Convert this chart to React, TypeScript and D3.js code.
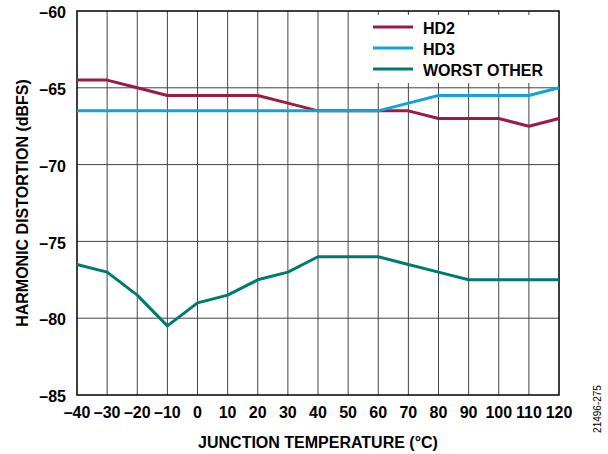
import React from "react";
import * as d3 from "d3";

const temps = [-40, -30, -20, -10, 0, 10, 20, 30, 40, 50, 60, 70, 80, 90, 100, 110, 120];
const hd2 = [-64.5, -64.5, -65, -65.5, -65.5, -65.5, -65.5, -66, -66.5, -66.5, -66.5, -66.5, -67, -67, -67, -67.5, -67];
const hd3 = [-66.5, -66.5, -66.5, -66.5, -66.5, -66.5, -66.5, -66.5, -66.5, -66.5, -66.5, -66, -65.5, -65.5, -65.5, -65.5, -65];
const worstOther = [-76.5, -77, -78.5, -80.5, -79, -78.5, -77.5, -77, -76, -76, -76, -76.5, -77, -77.5, -77.5, -77.5, -77.5];
const yTicks = [-60, -65, -70, -75, -80, -85];
const seriesNames = ["HD2", "HD3", "WORST OTHER"];
const seriesColors = ["#9b1b42", "#10a3d9", "#007a6e"];

const W = 608, H = 454;
const L = 77, R = 559, T = 11, B = 395;
const font = "Arial, 'Liberation Sans', Helvetica, sans-serif";

export default function App() {
  const x = d3.scaleLinear().domain([-40, 120]).range([L, R]);
  const y = d3.scaleLinear().domain([-85, -60]).range([B, T]);
  const line = d3.line<number>().x((_, i) => x(temps[i])).y((d) => y(d));
  const all = [hd2, hd3, worstOther];
  const fmt = (v: number) => (v < 0 ? "\u2013" + Math.abs(v) : String(v));

  return (
    <svg width={W} height={H} style={{ position: "absolute", left: 0, top: 0, background: "#fff" }} fontFamily={font}>
      {temps.slice(1, -1).map((t) => (
        <line key={"vx" + t} x1={x(t)} x2={x(t)} y1={T} y2={B} stroke="#444" strokeWidth={1} />
      ))}
      {yTicks.slice(1, -1).map((v) => (
        <line key={"hy" + v} x1={L} x2={R} y1={y(v)} y2={y(v)} stroke="#444" strokeWidth={1} />
      ))}
      <rect x={365} y={15} width={R - 365 - 1} height={68} fill="#fff" />
      <rect x={L} y={T} width={R - L} height={B - T} fill="none" stroke="#000" strokeWidth={1.5} />
      {all.map((s, i) => (
        <path key={seriesNames[i]} d={line(s) || ""} fill="none" stroke={seriesColors[i]} strokeWidth={3} strokeLinejoin="round" />
      ))}
      {seriesNames.map((n, i) => (
        <g key={"lg" + n}>
          <line x1={373} x2={413} y1={27 + i * 21} y2={27 + i * 21} stroke={seriesColors[i]} strokeWidth={3} />
          <text x={423} y={28.5 + i * 21} dy="0.36em" fontSize={16} fontWeight="bold" fill="#000">{n}</text>
        </g>
      ))}
      {yTicks.map((v) => (
        <text key={"yt" + v} x={66} y={y(v) + 1.5} dy="0.36em" textAnchor="end" fontSize={16} fontWeight="bold">{fmt(v)}</text>
      ))}
      {temps.map((t) => (
        <text key={"xt" + t} x={x(t)} y={412} dy="0.36em" textAnchor="middle" fontSize={16} fontWeight="bold">{fmt(t)}</text>
      ))}
      <text x={318} y={442} dy="0.36em" textAnchor="middle" fontSize={16} fontWeight="bold">JUNCTION TEMPERATURE (°C)</text>
      <text transform={`translate(22,${(T + B) / 2}) rotate(-90)`} dy="0.36em" textAnchor="middle" fontSize={16} fontWeight="bold">HARMONIC DISTORTION (dBFS)</text>
      <text transform={`translate(597,409) rotate(-90)`} dy="0.36em" textAnchor="middle" fontSize={10}>21496-275</text>
    </svg>
  );
}
